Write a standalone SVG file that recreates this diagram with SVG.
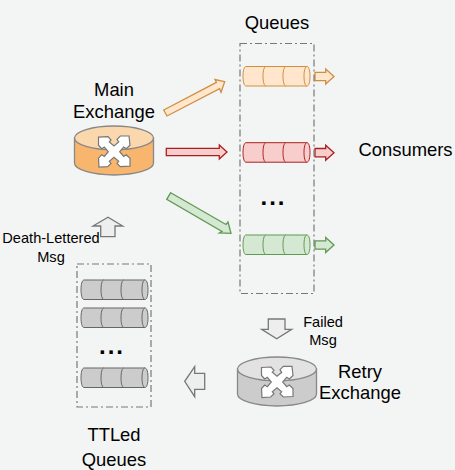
<svg xmlns="http://www.w3.org/2000/svg" xmlns:xlink="http://www.w3.org/1999/xlink" width="455" height="470" viewBox="0 0 455 470">
<style>
text{font-family:"Liberation Sans",Arial,sans-serif;fill:#000;text-anchor:middle}
.l{font-size:18.4px}.s{font-size:14.6px}
.dots{font-size:24px;font-weight:700;letter-spacing:2px}
.box{fill:none;stroke:#777;stroke-width:1.2;stroke-dasharray:7 3 2 3}
.q path{stroke-width:1.5;fill:none}.q path.b{fill:inherit}
.o{fill:#ffe6cc;stroke:#cf8f40}.r{fill:#f8cecc;stroke:#ad1f1f}.g{fill:#d5e8d4;stroke:#5f9a50}.k{fill:#ccc;stroke:#666}
.a{stroke-width:1.3}.n{fill:#eee;stroke:#777;stroke-width:1.3}
.cyl{stroke:#888;stroke-width:1.3}
.ic{fill:#fff;stroke:#777;stroke-width:1.2}
</style>
<defs>
<g id="queue">
<path class="b" d="M3,0H64C66,0 67,4.5 67,9.75S66,19.5 64,19.5H3C1,19.5 0,15 0,9.75S1,0 3,0Z"/>
<path d="M64,0C62,0 61,4.5 61,9.75S62,19.5 64,19.5M23,0C21,0 20,4.5 20,9.75S21,19.5 23,19.5M43,0C41,0 40,4.5 40,9.75S41,19.5 43,19.5"/>
</g>
<path id="small" d="M0,-4.2H10.7V-7.5L19,0L10.7,7.5V4.2H0Z"/>
<path id="icon" d="M-15.5,-14.5L-6,-15L-3,-11.7L-4.7,-9.7L0,-5.7L4.7,-9.7L3,-12.3L6.3,-15.7L15,-15.7L16,-6.5L12.3,-3L9.7,-4.7L5.7,0L9.7,4.7L12.3,3L16,6.5L16,14.5L6.3,15L3,11.7L4.7,9.7L0,5.7L-4.7,9.7L-3,11.7L-6.3,15L-15,15.5L-15.5,6.5L-12.3,3L-9.7,4.7L-5.7,0L-9.7,-4.7L-12.3,-3L-15.5,-6.5Z"/>
</defs>
<rect width="455" height="470" fill="#f3f4f4"/>

<g id="connectors">
<polygon class="o a" points="163.7,110 216.4,82.4 215,79.5 224.7,81.7 221,92.3 219.6,88.6 167,116"/>
<polygon class="r a" points="166.3,148.3 219.3,148.3 219.3,145 227,152 219.3,159 219.3,155.7 166.3,155.7"/>
<polygon class="g a" points="170.7,192.7 226,224.5 228,222 231,233.3 219.3,233 222,231.5 166.7,199.3"/>
<polygon class="n" points="100.7,236.7 100.7,226 93,226 108,217.3 122.7,226 115,226 115,236.7"/>
<polygon class="n" points="268.3,319 285,319 285,329.3 291.7,329.3 276.7,338.7 261.7,329.3 268.3,329.3"/>
<polygon class="n" points="204.7,373.3 194.7,373.3 194.7,366.7 184.7,381.3 194.7,396.7 194.7,389.3 204.7,389.3"/>
<use href="#small" x="315" y="76.5" class="o a"/>
<use href="#small" x="315" y="152.7" class="r a"/>
<use href="#small" x="315" y="245" class="g a"/>
</g>

<g id="main-exchange">
<text class="l" x="114" y="96">Main</text>
<text class="l" x="114" y="118">Exchange</text>
<path class="cyl" fill="#f8b56e" d="M74.5,138V163A39.5,12 0 0 0 153.5,163V138Z"/>
<ellipse class="cyl" fill="#fad7ac" cx="114" cy="138" rx="39.5" ry="12"/>
<use href="#icon" x="114" y="151.7" class="ic"/>
</g>

<g id="retry-exchange">
<path class="cyl" fill="#ccc" d="M237.5,369V394A39.5,12 0 0 0 316.5,394V369Z"/>
<ellipse class="cyl" fill="#e2e2e2" cx="277" cy="369" rx="39.5" ry="12"/>
<use href="#icon" x="277" y="382" class="ic"/>
<text class="l" x="360" y="378">Retry</text>
<text class="l" x="360" y="399">Exchange</text>
</g>

<g id="queues">
<text class="l" x="277" y="29">Queues</text>
<rect class="box" x="240" y="43.5" width="74" height="250"/>
<use href="#queue" x="243" y="66.5" class="q o"/>
<use href="#queue" x="243" y="142.7" class="q r"/>
<use href="#queue" x="243" y="235" class="q g"/>
<text class="dots" x="273.5" y="205">...</text>
</g>

<g id="ttled-queues">
<rect class="box" x="77" y="264" width="74" height="143"/>
<use href="#queue" x="81" y="280" class="q k"/>
<use href="#queue" x="81" y="308" class="q k"/>
<use href="#queue" x="81" y="368" class="q k"/>
<text class="dots" x="112" y="354">...</text>
<text class="l" x="114" y="441">TTLed</text>
<text class="l" x="114" y="466">Queues</text>
</g>

<g id="labels">
<text class="l" x="405.5" y="156">Consumers</text>
<text class="s" x="323" y="327">Failed</text>
<text class="s" x="323" y="345">Msg</text>
<text class="s" x="51" y="243">Death-Lettered</text>
<text class="s" x="51" y="262">Msg</text>
</g>
</svg>
